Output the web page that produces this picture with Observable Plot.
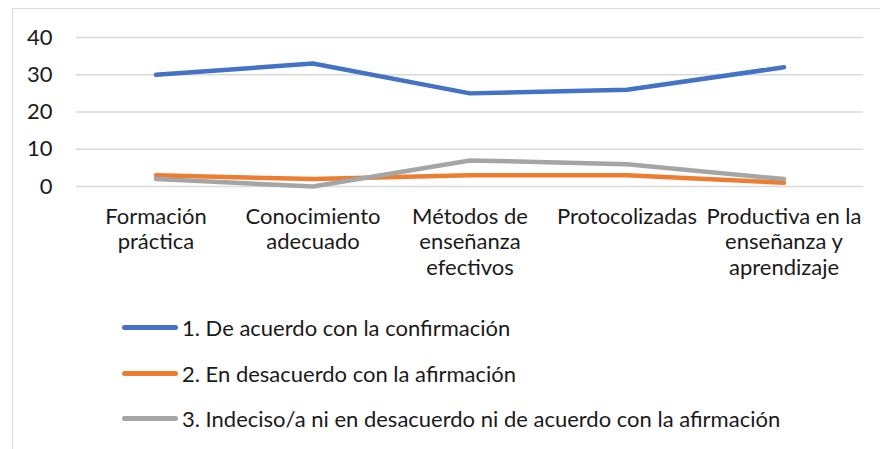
<!DOCTYPE html>
<html>
<head>
<meta charset="utf-8">
<script src="https://cdn.jsdelivr.net/npm/d3@7"></script>
<script src="https://cdn.jsdelivr.net/npm/@observablehq/plot@0.6"></script>
<style>
  html, body { margin: 0; padding: 0; background: #fff; width: 880px; height: 449px; overflow: hidden; }
  body { position: relative; font-family: Lato, "Open Sans", sans-serif; color: #1a1a1a; }
  #frame { position: absolute; left: 12px; top: 8px; width: 900px; height: 460px; border: 1.5px solid #d9d9d9; box-sizing: border-box; }
  #chart { position: absolute; left: 0; top: 0; }
  #legend { position: absolute; left: 0; top: 0; }
  .item { position: absolute; left: 122px; height: 24px; display: flex; align-items: center; font-size: 22px; white-space: nowrap; }
  .swatch { width: 56px; height: 5px; border-radius: 3px; margin-right: 4px; flex: none; }
</style>
</head>
<body>
<div id="frame"></div>
<div id="chart"></div>
<div id="legend"></div>
<script>
const categories = ["Formación práctica", "Conocimiento adecuado", "Métodos de enseñanza efectivos", "Protocolizadas", "Productiva en la enseñanza y aprendizaje"];
const categoryLabels = ["Formación\npráctica", "Conocimiento\nadecuado", "Métodos de\nenseñanza\nefectivos", "Protocolizadas", "Productiva en la\nenseñanza y\naprendizaje"];
const seriesNames = ["1. De acuerdo con la confirmación", "2. En desacuerdo con la afirmación", "3. Indeciso/a ni en desacuerdo ni de acuerdo con la afirmación"];
const seriesColors = ["#4472C4", "#ED7D31", "#A5A5A5"];
const deAcuerdo = [30, 33, 25, 26, 32];
const enDesacuerdo = [3, 2, 3, 3, 1];
const indeciso = [2, 0, 7, 6, 2];
const yTicks = [0, 10, 20, 30, 40];

const seriesValues = [deAcuerdo, enDesacuerdo, indeciso];
const data = seriesNames.flatMap((s, si) => categories.map((c, i) => ({series: s, category: c, value: seriesValues[si][i]})));
const labelOf = new Map(categories.map((c, i) => [c, categoryLabels[i]]));

const chart = Plot.plot({
  width: 880,
  height: 300,
  marginLeft: 76,
  marginRight: 17,
  marginTop: 37,
  marginBottom: 114,
  style: {fontFamily: "Lato, 'Open Sans', sans-serif", fontSize: "22px", color: "#1a1a1a", background: "transparent", overflow: "visible"},
  x: {type: "band", domain: categories, padding: 0},
  y: {domain: [0, 40]},
  color: {domain: seriesNames, range: seriesColors},
  marks: [
    Plot.gridY(yTicks, {stroke: "#d9d9d9", strokeOpacity: 1, strokeWidth: 1.5}),
    Plot.axisY(yTicks, {tickSize: 0, tickPadding: 24, fontSize: 22, label: null, fill: "#1a1a1a"}),
    Plot.axisX({tickSize: 0, tickPadding: 19, fontSize: 22, lineHeight: 1.16, label: null, fill: "#1a1a1a", tickFormat: d => labelOf.get(d)}),
    Plot.line(data, {x: "category", y: "value", z: "series", stroke: "series", strokeWidth: 4.5, strokeLinecap: "round", strokeLinejoin: "round"})
  ]
});
document.getElementById("chart").appendChild(chart);

const legend = document.getElementById("legend");
const legendTops = [315, 361, 406];
seriesNames.forEach((s, i) => {
  const item = document.createElement("div");
  item.className = "item";
  item.style.top = legendTops[i] + "px";
  const sw = document.createElement("div");
  sw.className = "swatch";
  sw.style.background = seriesColors[i];
  const t = document.createElement("span");
  t.textContent = s;
  item.appendChild(sw);
  item.appendChild(t);
  legend.appendChild(item);
});
</script>
</body>
</html>
